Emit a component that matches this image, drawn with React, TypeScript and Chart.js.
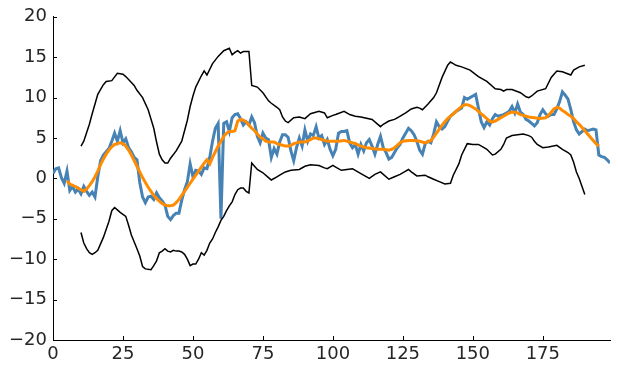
import React, { useEffect, useRef } from "react";
import { Chart, registerables } from "chart.js";

Chart.register(...registerables);

// Raw series (x = index 0..199)
const rawValues: number[] = [
  0.6, 1.2, 1.3, 0.1, -0.6, 0.9, -1.5, -1.0, -1.7, -1.3,
  -1.9, -1.0, -1.6, -2.1, -1.7, -2.3, 0.2, 2.2, 2.9, 3.3,
  3.7, 4.6, 5.6, 4.6, 5.9, 4.4, 4.9, 3.8, 3.3, 2.6,
  2.3, -0.5, -2.3, -3.0, -2.3, -2.2, -2.6, -1.8, -2.4, -2.8,
  -3.3, -4.7, -5.1, -4.6, -4.3, -4.3, -2.7, -1.4, -0.4, 1.8,
  0.2, 1.0, 0.9, 0.5, 1.3, 1.2, 2.6, 4.6, 6.2, 6.8,
  -5.0, 6.8, 7.0, 5.8, 7.5, 7.9, 8.0, 7.4, 6.6, 7.0,
  6.6, 7.6, 6.9, 5.2, 4.4, 5.6, 5.0, 4.8, 2.6, 3.7,
  3.0, 4.5, 5.4, 5.4, 5.1, 3.4, 2.2, 3.8, 5.0, 4.0,
  6.0, 4.6, 5.5, 5.3, 6.4, 5.0, 5.3, 4.2, 4.8, 3.6,
  2.8, 3.6, 5.6, 5.8, 5.8, 5.9, 4.4, 3.8, 4.2, 3.0,
  4.2, 3.4, 4.4, 4.8, 4.0, 3.0, 4.2, 5.2, 3.8, 3.2,
  2.4, 2.6, 3.2, 3.8, 4.2, 5.0, 5.6, 6.2, 5.9, 5.4,
  4.6, 3.5, 3.0, 4.3, 4.6, 4.4, 5.5, 7.0, 6.4, 6.1,
  6.4, 7.1, 7.7, 8.0, 8.3, 8.5, 8.7, 10.0, 9.8, 10.0,
  10.2, 10.4, 8.7, 7.0, 6.3, 7.0, 6.6, 7.4, 7.9, 7.7,
  7.8, 7.9, 8.1, 8.3, 8.9, 8.1, 9.2, 8.2, 7.9, 7.3,
  7.1, 6.8, 6.5, 6.9, 7.9, 8.5, 8.0, 7.7, 7.9, 7.9,
  8.6, 9.5, 10.7, 10.3, 9.8, 8.5, 7.0, 6.0, 5.5, 5.8,
  6.1, 5.9, 6.0, 6.1, 6.0, 2.9, 2.7, 2.6, 2.3, 1.9,
];

// Smoothed (orange) line
const smoothX: number[] = [
  5, 6, 8, 10, 11, 12, 13, 14, 15, 16, 17, 18, 19, 20, 21, 22, 23, 24, 25, 26,
  27, 28, 29, 30, 31, 32, 33, 34, 35, 36, 37, 38, 39, 40, 41, 42, 43, 44, 45, 46,
  47, 48, 49, 50, 51, 52, 53, 54, 55, 56, 57, 58, 59, 60, 61, 62, 63, 64, 65, 66,
  67, 68, 69, 70, 71, 72, 73, 74, 75, 76, 77, 78, 79, 80, 81, 82, 83, 84, 85, 86,
  87, 88, 90, 92, 93, 94, 95, 96, 98, 100, 102, 104, 106, 108, 110, 112, 114, 116, 118, 120,
  121, 122, 123, 124, 125, 127, 129, 131, 133, 135, 136, 137, 138, 139, 140, 141, 142, 143, 144, 145,
  146, 147, 148, 149, 150, 151, 152, 153, 154, 155, 156, 157, 158, 159, 160, 161, 162, 163, 164, 165,
  166, 167, 168, 169, 170, 172, 174, 176, 177, 178, 179, 180, 181, 182, 183, 184, 185, 186, 187, 188,
  189, 190, 191, 192, 193, 194, 195,
];
const smoothY: number[] = [
  -0.3, -0.7, -1.0, -1.4, -1.6, -1.3, -0.9, -0.4, 0.2, 0.9, 1.7, 2.4, 3.0, 3.5, 3.9, 4.2, 4.3, 4.4, 4.3, 4.0,
  3.5, 2.9, 2.2, 1.5, 0.8, 0.1, -0.5, -1.1, -1.6, -2.1, -2.5, -2.8, -3.1, -3.3, -3.4, -3.4, -3.3, -3.0, -2.6, -2.1,
  -1.6, -1.1, -0.6, -0.1, 0.4, 0.9, 1.4, 1.9, 2.3, 1.8, 2.6, 3.3, 4.0, 4.6, 5.2, 5.6, 5.8, 5.8, 5.9, 7.1,
  7.3, 7.2, 7.0, 6.6, 6.2, 5.9, 5.5, 5.1, 4.9, 4.6, 4.5, 4.5, 4.5, 4.3, 4.2, 4.1, 4.0, 4.0, 4.1, 4.3,
  4.4, 4.5, 4.5, 4.8, 5.0, 5.0, 4.9, 4.8, 4.6, 4.6, 4.6, 4.7, 4.5, 4.3, 4.0, 3.8, 3.7, 3.6, 3.6, 3.5,
  3.6, 3.8, 4.1, 4.4, 4.6, 4.7, 4.7, 4.6, 4.4, 4.7, 5.1, 5.6, 6.1, 6.6, 7.0, 7.4, 7.7, 8.0, 8.3, 8.6,
  8.9, 9.1, 9.1, 9.0, 8.8, 8.6, 8.3, 8.0, 7.7, 7.4, 7.1, 7.0, 7.1, 7.3, 7.5, 7.7, 7.9, 8.1, 8.2, 8.2,
  8.1, 7.9, 7.8, 7.7, 7.6, 7.5, 7.4, 7.5, 7.8, 8.2, 8.6, 8.8, 8.7, 8.4, 8.2, 7.9, 7.7, 7.4, 7.0, 6.7,
  6.3, 5.9, 5.5, 5.1, 4.7, 4.3, 4.0,
];

// Upper band
const upperX: number[] = [
  10, 11, 13, 14, 16, 18, 19, 21, 23, 25, 26, 29, 30, 32, 34, 36, 37, 38, 39, 40,
  41, 42, 44, 46, 48, 49, 50, 51, 53, 54, 55, 57, 59, 61, 63, 64, 65, 66, 67, 68,
  70, 71, 73, 75, 77, 78, 80, 81, 82, 83, 84, 86, 88, 90, 92, 95, 97, 98, 100, 101,
  104, 106, 108, 110, 114, 117, 118, 120, 122, 123, 126, 128, 130, 131, 132, 134, 136, 137, 139, 141,
  142, 143, 144, 146, 149, 152, 155, 158, 160, 161, 162, 164, 167, 169, 170, 171, 173, 176, 178, 180,
  182, 185, 186, 188, 190,
];
const upperY: number[] = [
  4.0, 4.6, 6.7, 8.0, 10.4, 11.6, 12.0, 12.1, 13.0, 12.9, 12.6, 11.5, 10.9, 10.0, 8.5, 6.2, 4.5, 3.0, 2.3, 1.9,
  1.9, 2.5, 3.4, 4.6, 7.2, 8.9, 10.2, 11.3, 12.7, 13.3, 12.8, 14.2, 15.1, 15.8, 16.1, 15.3, 15.6, 15.8, 15.5, 15.7,
  15.7, 11.5, 11.3, 10.6, 9.6, 9.3, 8.8, 8.5, 7.6, 7.1, 6.9, 7.5, 7.6, 7.4, 8.0, 8.3, 8.1, 7.5, 7.8, 7.9,
  8.3, 7.9, 7.7, 7.6, 7.3, 6.4, 6.7, 7.1, 7.3, 7.5, 8.1, 8.6, 8.8, 8.7, 8.5, 9.2, 10.0, 10.6, 12.5, 14.0,
  14.4, 14.2, 14.0, 13.8, 13.4, 12.6, 12.0, 11.1, 11.0, 10.8, 11.0, 11.0, 10.6, 10.1, 10.0, 10.2, 10.8, 11.1, 12.5, 13.3,
  13.2, 12.8, 13.4, 13.8, 14.0,
];

// Lower band
const lowerX: number[] = [
  10, 11, 12, 13, 14, 15, 16, 18, 20, 21, 22, 23, 24, 26, 27, 28, 30, 31, 32, 33,
  35, 36, 37, 38, 39, 40, 41, 42, 43, 44, 45, 46, 47, 48, 49, 50, 51, 52, 53, 54,
  55, 56, 57, 58, 59, 60, 61, 62, 63, 64, 65, 66, 67, 68, 69, 70, 71, 72, 73, 75,
  77, 78, 80, 81, 83, 85, 88, 90, 92, 95, 97, 98, 100, 101, 103, 105, 107, 108, 110, 113,
  115, 117, 118, 120, 122, 124, 126, 127, 128, 130, 133, 134, 136, 138, 140, 142, 143, 145, 146, 148,
  150, 152, 154, 155, 157, 158, 160, 161, 162, 164, 166, 168, 170, 171, 172, 173, 175, 177, 180, 182,
  184, 185, 186, 187, 188, 189, 190,
];
const lowerY: number[] = [
  -6.7, -8.0, -8.7, -9.2, -9.4, -9.2, -8.9, -7.3, -5.3, -4.0, -3.6, -3.9, -4.2, -4.7, -5.8, -7.0, -8.7, -9.6, -10.9, -11.2,
  -11.3, -10.8, -10.2, -9.2, -9.0, -8.7, -9.0, -9.1, -8.9, -9.0, -9.0, -9.1, -9.4, -10.0, -10.8, -10.6, -10.6, -10.0, -9.2, -9.5,
  -8.9, -8.0, -7.5, -6.7, -6.0, -5.2, -4.7, -4.0, -3.4, -2.9, -2.0, -1.4, -1.2, -1.2, -1.6, -1.8, 1.9, 1.5, 1.1, 0.7,
  0.1, -0.2, 0.2, 0.4, 0.8, 1.0, 1.1, 1.5, 1.7, 1.6, 1.3, 1.2, 1.6, 1.4, 1.0, 1.1, 1.2, 1.0, 0.6, 0.0,
  0.5, 0.8, 0.5, -0.1, 0.2, 0.5, 0.9, 1.1, 0.8, 0.3, 0.4, 0.2, -0.1, -0.4, -0.7, -0.6, 0.4, 1.8, 2.9, 4.3,
  4.2, 4.2, 3.8, 3.6, 2.9, 3.0, 3.6, 4.2, 5.0, 5.3, 5.4, 5.5, 5.3, 5.1, 4.6, 4.2, 3.8, 3.9, 4.1, 3.6,
  3.2, 2.9, 2.0, 0.8, 0.0, -1.0, -2.0,
];

const xTicks: number[] = [0, 25, 50, 75, 100, 125, 150, 175];
const yTicks: number[] = [-20, -15, -10, -5, 0, 5, 10, 15, 20];

const toPts = (xs: number[], ys: number[]) => xs.map((x, i) => ({ x, y: ys[i] }));

const inwardTicks = {
  id: "inwardTicks",
  afterDraw(chart: any) {
    const { ctx, chartArea } = chart;
    const xs = chart.scales.x;
    const ys = chart.scales.y;
    ctx.save();
    ctx.strokeStyle = "#000";
    ctx.lineWidth = 1;
    ctx.beginPath();
    for (const v of yTicks) {
      const p = Math.round(ys.getPixelForValue(v)) + 0.5;
      ctx.moveTo(chartArea.left, p);
      ctx.lineTo(chartArea.left + 4, p);
    }
    for (const v of xTicks) {
      const p = Math.round(xs.getPixelForValue(v)) + 0.5;
      ctx.moveTo(p, chartArea.bottom);
      ctx.lineTo(p, chartArea.bottom - 4);
    }
    ctx.stroke();
    ctx.restore();
  },
};

export default function App() {
  const ref = useRef<HTMLCanvasElement | null>(null);
  useEffect(() => {
    if (!ref.current) return;
    const font = { family: "'DejaVu Sans', sans-serif", size: 18 };
    const chart = new Chart(ref.current, {
      type: "line",
      data: {
        datasets: [
          {
            data: rawValues.map((v, i) => ({ x: i, y: v })),
            borderColor: "#4682b4",
            borderWidth: 3,
            pointRadius: 0,
            fill: false,
            order: 4,
          },
          {
            data: toPts(smoothX, smoothY),
            borderColor: "#ff8c00",
            borderWidth: 3,
            pointRadius: 0,
            fill: false,
            order: 3,
          },
          {
            data: toPts(upperX, upperY),
            borderColor: "#000000",
            borderWidth: 1.5,
            pointRadius: 0,
            fill: false,
            order: 2,
          },
          {
            data: toPts(lowerX, lowerY),
            borderColor: "#000000",
            borderWidth: 1.5,
            pointRadius: 0,
            fill: false,
            order: 1,
          },
        ],
      },
      options: {
        animation: false,
        responsive: false,
        maintainAspectRatio: false,
        layout: { padding: { top: 15, right: 8, left: 0, bottom: 0 } },
        plugins: { legend: { display: false }, tooltip: { enabled: false } },
        scales: {
          x: {
            type: "linear",
            min: 0,
            max: 199,
            afterBuildTicks: (s: any) => {
              s.ticks = xTicks.map((v) => ({ value: v }));
            },
            afterFit: (s: any) => {
              s.height = 30;
            },
            ticks: { color: "#262626", font, padding: 4, maxRotation: 0, autoSkip: false },
            grid: { display: true, drawOnChartArea: false, drawTicks: false },
            border: { display: true, color: "#000", width: 1 },
          },
          y: {
            type: "linear",
            min: -20,
            max: 20,
            afterBuildTicks: (s: any) => {
              s.ticks = yTicks.map((v) => ({ value: v }));
            },
            afterFit: (s: any) => {
              s.width = 53;
            },
            ticks: {
              color: "#262626",
              font,
              padding: 6,
              autoSkip: false,
              callback: (v: any) => String(v).replace("-", "\u2212"),
            },
            grid: { display: true, drawOnChartArea: false, drawTicks: false },
            border: { display: true, color: "#000", width: 1 },
          },
        },
      },
      plugins: [inwardTicks],
    });
    return () => chart.destroy();
  }, []);
  return (
    <div style={{ position: "absolute", left: 0, top: 0, width: 618, height: 370, background: "#fff" }}>
      <canvas ref={ref} width={618} height={370} style={{ width: 618, height: 370 }} />
    </div>
  );
}
